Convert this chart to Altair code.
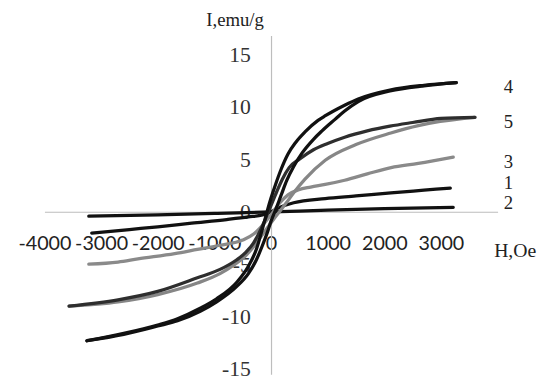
import altair as alt
import pandas as pd

# ---- data (H in Oe, I in emu/g) ----
# sample 4: black hysteresis loop
H4_down = [3270, 2700, 2100, 1540, 1300, 960, 830, 600, 435, 300, 175, 80, 0, -60, -150, -260, -400, -600, -960, -1250, -1650, -2000, -2600, -3250]
I4_down = [12.3, 12.05, 11.6, 10.75, 10.15, 9.15, 8.7, 7.6, 6.6, 5.5, 4.0, 2.6, 1.3, 0.2, -1.6, -3.6, -5.2, -6.7, -8.3, -9.2, -10.2, -10.8, -11.6, -12.3]
H4_up = [-3250, -2600, -2000, -1650, -1250, -960, -600, -400, -260, -150, -60, 0, 90, 180, 280, 400, 550, 750, 900, 1130, 1300, 1540, 2100, 2700, 3270]
I4_up = [-12.3, -11.7, -10.9, -10.4, -9.5, -8.6, -7.1, -5.9, -4.6, -3.2, -1.9, -0.9, 0.3, 1.6, 3.0, 4.3, 5.6, 6.9, 7.7, 8.8, 9.6, 10.5, 11.5, 12.0, 12.3]

# sample 5: loop, dark descending branch and grey ascending branch
H5_down = [3600, 3000, 2500, 2100, 1700, 1300, 1000, 750, 500, 320, 200, 100, 0, -100, -200, -310, -450, -610, -900, -1300, -2000, -2700, -3565]
I5_down = [9.0, 8.9, 8.5, 8.15, 7.7, 7.1, 6.5, 5.9, 5.0, 4.2, 3.1, 1.9, 0.6, -0.7, -1.9, -3.0, -3.9, -4.6, -5.5, -6.3, -7.6, -8.4, -9.0]
H5_up = [-3565, -2700, -2000, -1300, -900, -660, -450, -300, -180, -60, 50, 150, 250, 400, 600, 957, 1500, 2116, 2600, 2986, 3600]
I5_up = [-9.0, -8.6, -7.9, -6.8, -5.9, -5.1, -4.2, -3.3, -2.4, -1.5, -0.7, 0.0, 0.7, 1.8, 3.1, 4.9, 6.4, 7.5, 8.2, 8.6, 9.0]

# sample 3: grey
H3 = [-3217, -2700, -2350, -1700, -1300, -900, -500, -300, -150, 0, 150, 300, 490, 700, 957, 1300, 1700, 2120, 2600, 3217]
I3 = [-5.0, -4.8, -4.5, -4.0, -3.6, -3.2, -2.7, -2.1, -1.3, -0.3, 0.8, 1.6, 2.1, 2.35, 2.6, 3.0, 3.6, 4.2, 4.6, 5.2]

# sample 1: black, nearly linear
H1 = [-3165, -2500, -2000, -1400, -783, -400, -150, 0, 150, 400, 957, 1500, 2116, 2700, 3165]
I1 = [-2.05, -1.7, -1.45, -1.1, -0.75, -0.5, -0.3, 0.0, 0.4, 0.85, 1.25, 1.5, 1.8, 2.05, 2.25]

# sample 2: black, almost flat
H2 = [-3217, -2000, -1000, 0, 1000, 2000, 3217]
I2 = [-0.42, -0.3, -0.17, -0.02, 0.15, 0.3, 0.42]

branch_names = ["2", "1", "3", "5 up", "5 down", "4 up", "4 down"]
branch_H = [H2, H1, H3, H5_up, H5_down, H4_up, H4_down]
branch_I = [I2, I1, I3, I5_up, I5_down, I4_up, I4_down]

curve_labels = ["4", "5", "3", "1", "2"]
label_I = [11.9, 8.5, 4.75, 2.75, 0.8]

x_ticks = [-4000, -3000, -2000, -1000, 0, 1000, 2000, 3000]
y_ticks = [-15, -10, -5, 0, 5, 10, 15]

# ---- build table ----
rows = []
for name, hs, ms in zip(branch_names, branch_H, branch_I):
    for k, (h, m) in enumerate(zip(hs, ms)):
        rows.append({"branch": name, "H": h, "I": m, "k": k})
df = pd.DataFrame(rows)
lab_df = pd.DataFrame({"label": curve_labels, "I": label_I})

branch_colors = ["#111111", "#111111", "#8a8a8a", "#868686", "#2e2e2e", "#111111", "#111111"]

x_scale = alt.Scale(domain=[-4000, 4000], nice=False, zero=False)
y_scale = alt.Scale(domain=[-15.5, 16.8], nice=False, zero=False)

lines = alt.Chart(df).mark_line(
    strokeWidth=3.3, interpolate="monotone", strokeCap="round", strokeJoin="round"
).encode(
    x=alt.X("H:Q", scale=x_scale, axis=alt.Axis(
        values=x_ticks, title="H,Oe", offset=-165,
        domainColor="#bdbdbd", domainWidth=1.2, ticks=False, grid=False,
        labelFont="Lato", labelFontSize=20, labelColor="#222222",
        labelPadding=22, labelOverlap=False, labelFlush=False,
        labelExpr="'' + datum.value",
        titleX=456, titleY=39, titleAlign="left", titleBaseline="middle",
        titleFont="Liberation Serif", titleFontSize=20, titleFontWeight="normal",
        titleColor="#222222")),
    y=alt.Y("I:Q", scale=y_scale, axis=alt.Axis(
        values=y_ticks, title="I,emu/g", offset=-230,
        domainColor="#bdbdbd", domainWidth=1.2, ticks=False, grid=False,
        labelFont="Liberation Serif", labelFontSize=22, labelColor="#333333",
        labelPadding=21, labelOverlap=False, labelFlush=False,
        labelExpr="'' + datum.value",
        titleAngle=0, titleX=-37, titleY=-16, titleAlign="center", titleBaseline="middle",
        titleFont="Liberation Serif", titleFontSize=19, titleFontWeight="normal",
        titleColor="#222222")),
    color=alt.Color("branch:N", scale=alt.Scale(domain=branch_names, range=branch_colors), legend=None),
    detail="branch:N",
    order="k:Q",
)

labels = alt.Chart(lab_df).mark_text(
    font="Liberation Serif", fontSize=19, color="#222222", align="center", baseline="middle"
).encode(
    x=alt.datum(4190),
    y=alt.Y("I:Q"),
    text="label:N",
)

chart = alt.layer(lines, labels).properties(
    width=460, height=344,
    autosize=alt.AutoSizeParams(type="none"),
    padding={"left": 37, "top": 25, "right": 40, "bottom": 8},
).configure_view(stroke=None)

chart.save("out.html", embed_options={"renderer": "svg", "actions": False})
